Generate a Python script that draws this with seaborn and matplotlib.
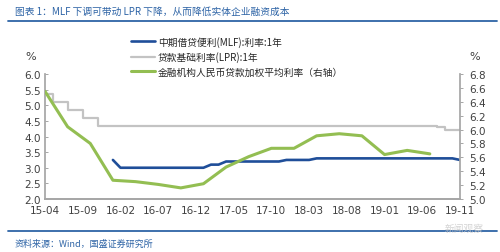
import numpy as np
import pandas as pd
import matplotlib
matplotlib.use("Agg")
import matplotlib.pyplot as plt
import seaborn as sns

# ── Data ───────────────────────────────────────────────────────────────
START = "2015-04"
TICK_LABELS = ["15-04", "15-09", "16-02", "16-07", "16-12", "17-05",
               "17-10", "18-03", "18-08", "19-01", "19-06", "19-11"]

# 中期借贷便利(MLF):利率:1年 (left axis)
mlf_months = ["2016-01", "2016-02", "2017-01", "2017-02", "2017-03", "2017-04",
              "2017-11", "2017-12", "2018-03", "2018-04", "2019-10", "2019-11"]
mlf_values = [3.25, 3.00, 3.00, 3.10, 3.10, 3.20,
              3.20, 3.25, 3.25, 3.30, 3.30, 3.25]

# 贷款基础利率(LPR):1年 (left axis, step)
lpr_months = ["2015-04", "2015-05", "2015-07", "2015-09", "2015-11",
              "2019-08", "2019-09", "2019-10", "2019-11"]
lpr_values = [5.35, 5.10, 4.85, 4.60, 4.35, 4.31, 4.22, 4.20, 4.20]

# 金融机构人民币贷款加权平均利率 (right axis)
wavg_months = ["2015-04", "2015-07", "2015-10", "2016-01", "2016-04", "2016-07",
               "2016-10", "2017-01", "2017-04", "2017-07", "2017-10", "2018-01",
               "2018-04", "2018-07", "2018-10", "2019-01", "2019-04", "2019-07"]
wavg_values = [6.55, 6.04, 5.80, 5.27, 5.25, 5.21,
               5.16, 5.22, 5.46, 5.61, 5.73, 5.73,
               5.91, 5.94, 5.91, 5.64, 5.70, 5.65]

LABELS = ["中期借贷便利(MLF):利率:1年", "贷款基础利率(LPR):1年",
          "金融机构人民币贷款加权平均利率（右轴）"]

# ── Style ──────────────────────────────────────────────────────────────
C_MLF = "#1F4E99"
C_LPR = "#C3C3C3"
C_WAVG = "#93BE52"
C_HEAD = "#2E64A6"
sns.set_theme(style="white")
plt.rcParams["font.family"] = ["DejaVu Sans", "Noto Sans CJK SC"]
plt.rcParams["axes.edgecolor"] = "#A6A6A6"


def month_index(months):
    p0 = pd.Period(START, "M")
    return [(pd.Period(m, "M") - p0).n for m in months]


def expand_steps(months, values):
    # monthly series holding each value until the next change
    idx = month_index(months)
    xs, ys = [], []
    for i, (a, v) in enumerate(zip(idx, values)):
        b = idx[i + 1] if i + 1 < len(idx) else a + 1
        for k in range(a, b):
            xs.append(k)
            ys.append(v)
    return xs, ys


lpr_x, lpr_y = expand_steps(lpr_months, lpr_values)
mlf_x, mlf_y = expand_steps(mlf_months, mlf_values)
df_lpr = pd.DataFrame({"x": lpr_x, "y": lpr_y})
df_mlf = pd.DataFrame({"x": mlf_x, "y": mlf_y})
df_wavg = pd.DataFrame({"x": month_index(wavg_months), "y": wavg_values})

fig = plt.figure(figsize=(5.0, 2.53), dpi=100)
ax = fig.add_axes([0.09, 1 - 200 / 253, 0.83, 125 / 253])
ax2 = ax.twinx()

sns.lineplot(data=df_mlf, x="x", y="y", ax=ax, color=C_MLF, linewidth=1.9,
             label=LABELS[0], legend=False, zorder=4)
sns.lineplot(data=df_lpr, x="x", y="y", ax=ax, color=C_LPR, linewidth=1.6,
             drawstyle="steps-post", label=LABELS[1], legend=False, zorder=3)
sns.lineplot(data=df_wavg, x="x", y="y", ax=ax2, color=C_WAVG, linewidth=2.2,
             label=LABELS[2], legend=False, zorder=3)

ax.set_xlim(0, 55)
ax.set_ylim(2.0, 6.0)
ax2.set_ylim(5.0, 6.8)
ax.set_yticks(np.arange(2.0, 6.01, 0.5))
ax2.set_yticks(np.arange(5.0, 6.81, 0.2))
ax.set_yticklabels([f"{v:.1f}" for v in np.arange(2.0, 6.01, 0.5)])
ax2.set_yticklabels([f"{v:.1f}" for v in np.arange(5.0, 6.81, 0.2)])
ax.set_xticks(np.arange(0, 56, 5))
ax.set_xticklabels(TICK_LABELS)
ax.set_xlabel("")
ax.set_ylabel("")
ax2.set_ylabel("")

for a in (ax, ax2):
    a.spines["top"].set_visible(False)
    a.grid(False)
    a.tick_params(labelsize=7.5, colors="#404040", length=2.5, width=0.7, pad=3)
ax.tick_params(axis="both", direction="in", color="#A6A6A6")
ax2.tick_params(axis="y", direction="out", color="#A6A6A6", pad=4)
ax.tick_params(axis="x", pad=4)
ax.spines["right"].set_visible(False)
ax2.spines["left"].set_visible(False)

# legend
h1, l1 = ax.get_legend_handles_labels()
h2, l2 = ax2.get_legend_handles_labels()
fig.legend(h1 + h2, l1 + l2, loc="upper left", bbox_to_anchor=(0.255, 0.87),
           frameon=False, fontsize=7, handlelength=2.4, handletextpad=0.3,
           labelspacing=0.45, borderaxespad=0,
           prop={"family": ["Noto Sans CJK SC", "DejaVu Sans"], "size": 7})

# unit labels
fig.text(0.062, 1 - 57 / 253, "%", fontsize=8, color="#404040", ha="center", va="center")
fig.text(0.95, 1 - 57 / 253, "%", fontsize=8, color="#404040", ha="center", va="center")

# header / footer
fig.text(0.03, 1 - 12 / 253, "图表 1：MLF 下调可带动 LPR 下降，从而降低实体企业融资成本",
         fontsize=7, color=C_HEAD, style="italic", va="center",
         family=["Noto Sans CJK SC", "DejaVu Sans"])
fig.add_artist(plt.Line2D([0.016, 0.994], [1 - 22 / 253] * 2, color=C_HEAD, linewidth=1.3))
fig.add_artist(plt.Line2D([0.016, 0.994], [1 - 232 / 253] * 2, color=C_HEAD, linewidth=1.3))
fig.text(0.03, 1 - 244 / 253, "资料来源：Wind，国盛证券研究所", fontsize=6.5,
         color=C_HEAD, style="italic", va="center",
         family=["Noto Sans CJK SC", "DejaVu Sans"])
fig.text(0.89, 1 - 229 / 253, "新闻观察", fontsize=7, color="#C8C8C8", alpha=0.8,
         va="center", family=["Noto Sans CJK SC", "DejaVu Sans"])

fig.savefig("out.png", dpi=100)
